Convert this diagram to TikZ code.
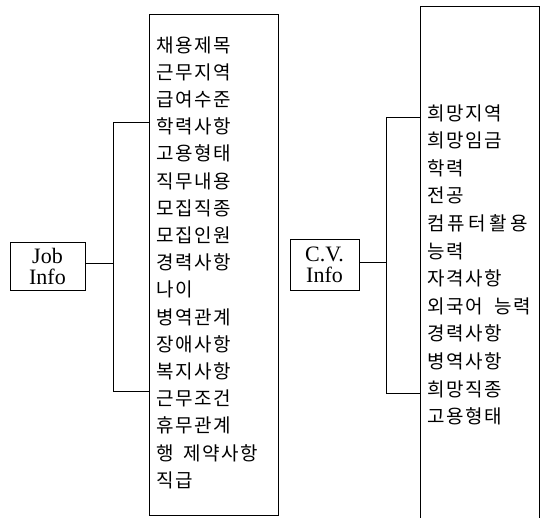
\documentclass[tikz,border=0pt]{standalone}
\usepackage{fontspec}
\setmainfont{Liberation Serif}
\newfontfamily\kr[LetterSpace=8]{Noto Sans CJK KR}
\begin{document}
\begin{tikzpicture}[x=1pt,y=-1pt,
  line/.style={draw=black,line width=0.9pt},
  infobox/.style={draw=black,line width=0.9pt,rectangle,inner sep=0pt,align=center,
    font=\fontsize{22}{21}\selectfont},
  item/.style={anchor=west,inner sep=0pt,font=\kr\fontsize{19}{19}\selectfont}]
\useasboundingbox (0,0) rectangle (542,518);
% left side
\node[infobox,minimum width=75pt,minimum height=48pt] (job) at (47.5,266) {Job\\Info};
\node[draw=black,line width=0.9pt,minimum width=129pt,minimum height=501pt,anchor=north west,inner sep=0pt] (lbox) at (149,14) {};
\coordinate (jmid) at (113,263);
\coordinate (jtop) at (113,122);
\coordinate (jbot) at (113,391);
\draw[line] (job.east |- jmid) -- (jmid);
\draw[line] (lbox.west |- jtop) -- (jtop) -- (jbot) -- (lbox.west |- jbot);
\foreach \t [count=\i from 0] in {채용제목,근무지역,급여수준,학력사항,고용형태,직무내용,모집직종,모집인원,경력사항,나이,병역관계,장애사항,복지사항,근무조건,휴무관계,행\hspace{0.5em}제약사항,직급}
  \node[item] (j\i) at (156,{45+\i*27.2}) {\t};
% right side
\node[infobox,minimum width=69pt,minimum height=51pt] (cv) at (324.5,264.5) {C.V.\\Info};
\coordinate (rbl) at (420,520);
\coordinate (rtl) at (420,6);
\coordinate (rtr) at (539,6);
\coordinate (rbr) at (539,520);
\draw[line] (rbl) -- (rtl) -- (rtr) -- (rbr);
\coordinate (cmid) at (386,262);
\coordinate (ctop) at (386,117);
\coordinate (cbot) at (386,393);
\draw[line] (cv.east |- cmid) -- (cmid);
\draw[line] (rtl |- ctop) -- (ctop) -- (cbot) -- (rtl |- cbot);
\foreach \t [count=\i from 0] in {희망지역,희망임금,학력,전공,{\addfontfeature{LetterSpace=17}컴퓨터활용},능력,자격사항,외국어\hspace{0.6em}능력,경력사항,병역사항,희망직종,고용형태}
  \node[item] (c\i) at (427,{113+\i*27.6}) {\t};
\end{tikzpicture}
\end{document}
